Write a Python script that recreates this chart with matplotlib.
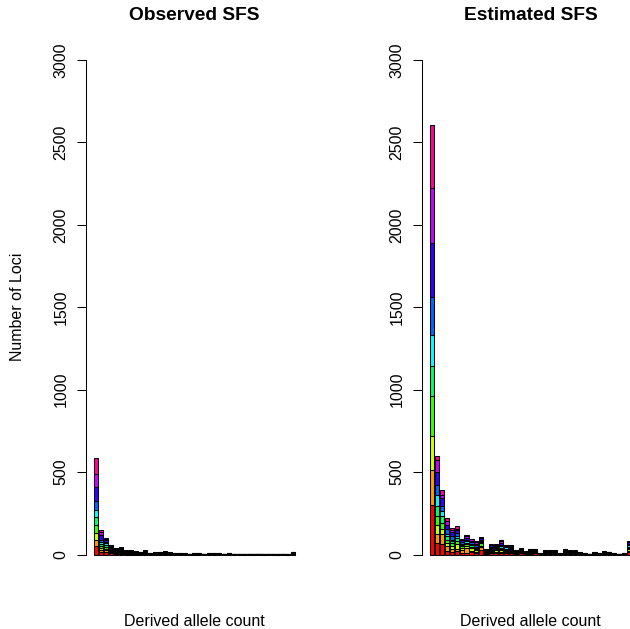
import numpy as np
import matplotlib
matplotlib.use("Agg")
import matplotlib.pyplot as plt

plt.rcParams['font.family'] = ['Liberation Sans', 'DejaVu Sans']

# rainbow(10) palette, one colour per population (bottom to top)
colores = ["#FF0000", "#FF9900", "#CCFF00", "#33FF00", "#00FF66",
           "#00FFFF", "#0066FF", "#3300FF", "#CC00FF", "#FF0099"]

# derived allele count classes 1..41
conteos = list(range(1, 42))

# observed SFS, one list per population
obs_rojo = [50, 14, 14, 8, 5, 5, 3, 3, 2, 2, 3, 1, 2, 2, 2, 2, 1, 1, 1, 1,
            1, 1, 1, 1, 1, 1, 1, 1, 1, 1, 0, 1, 0, 1, 0, 1, 0, 0, 1, 0, 2]
obs_naranja = [40, 12, 12, 6, 4, 5, 3, 2, 2, 2, 3, 1, 1, 2, 2, 1, 1, 1, 1, 1,
               1, 1, 0, 1, 1, 1, 1, 1, 1, 0, 1, 0, 1, 0, 0, 0, 1, 0, 0, 0, 2]
obs_amarillo = [42, 12, 10, 6, 4, 4, 2, 3, 2, 2, 3, 1, 2, 2, 2, 2, 1, 1, 1, 0,
                1, 1, 1, 1, 1, 1, 0, 1, 0, 0, 0, 1, 0, 0, 1, 0, 0, 1, 0, 0, 2]
obs_verde = [44, 14, 10, 6, 4, 5, 3, 3, 2, 2, 2, 1, 1, 2, 2, 1, 1, 1, 0, 1,
             1, 1, 0, 1, 1, 1, 1, 1, 1, 1, 0, 0, 0, 1, 0, 0, 0, 0, 0, 1, 2]
obs_primavera = [50, 12, 10, 6, 4, 4, 2, 3, 2, 2, 3, 2, 2, 2, 2, 2, 1, 1, 1, 1,
                 1, 1, 1, 1, 1, 1, 1, 1, 1, 0, 1, 0, 0, 0, 0, 1, 0, 0, 0, 0, 2]
obs_cian = [46, 12, 12, 6, 4, 4, 3, 2, 2, 2, 3, 1, 1, 2, 2, 1, 1, 1, 1, 0,
            1, 1, 0, 1, 1, 1, 0, 1, 0, 0, 0, 1, 0, 0, 1, 0, 0, 1, 0, 0, 2]
obs_celeste = [55, 14, 10, 6, 4, 5, 2, 3, 2, 2, 2, 1, 2, 2, 2, 2, 1, 1, 1, 1,
               1, 1, 1, 1, 1, 1, 1, 1, 1, 1, 0, 0, 1, 0, 0, 0, 0, 0, 1, 0, 2]
obs_azul = [81, 30, 10, 6, 5, 5, 3, 2, 2, 2, 3, 2, 1, 2, 2, 1, 1, 1, 1, 1,
            1, 1, 1, 1, 1, 1, 1, 1, 1, 0, 1, 0, 0, 1, 0, 0, 1, 0, 0, 1, 2]
obs_violeta = [81, 18, 8, 6, 4, 4, 3, 3, 2, 1, 2, 1, 2, 1, 2, 1, 1, 0, 0, 0,
               0, 0, 0, 1, 1, 0, 0, 0, 0, 0, 0, 0, 0, 0, 0, 0, 0, 0, 0, 0, 1]
obs_rosa = [95, 8, 4, 4, 4, 4, 2, 2, 2, 1, 2, 1, 1, 1, 2, 1, 1, 0, 0, 0,
            0, 0, 0, 1, 1, 0, 0, 0, 0, 0, 0, 0, 0, 0, 0, 0, 0, 0, 0, 0, 1]

# estimated SFS, one list per population
est_rojo = [303, 71, 61, 20, 16, 20, 12, 12, 14, 10, 30, 4, 10, 8, 10, 10, 8, 4, 8, 2,
            4, 8, 1, 3, 3, 3, 1, 4, 3, 3, 2, 1, 1, 2, 1, 2, 6, 1, 1, 2, 14]
est_naranja = [212, 51, 61, 30, 16, 14, 18, 30, 10, 8, 14, 4, 6, 8, 8, 6, 6, 3, 4, 2,
               4, 3, 1, 3, 3, 3, 1, 4, 3, 3, 2, 1, 0, 2, 1, 2, 2, 1, 0, 1, 8]
est_amarillo = [202, 58, 30, 20, 20, 30, 10, 10, 14, 8, 8, 4, 6, 10, 8, 6, 6, 3, 4, 2,
                4, 3, 1, 3, 3, 3, 1, 4, 3, 3, 2, 1, 1, 2, 1, 2, 2, 1, 1, 1, 10]
est_verde = [242, 54, 40, 20, 16, 18, 10, 10, 10, 8, 16, 4, 6, 6, 8, 6, 6, 3, 4, 2,
             4, 3, 1, 3, 3, 3, 1, 4, 3, 3, 2, 1, 0, 2, 1, 2, 2, 1, 0, 1, 8]
est_primavera = [182, 61, 40, 20, 14, 16, 8, 10, 8, 8, 8, 4, 6, 6, 8, 6, 6, 3, 4, 2,
                 4, 3, 1, 3, 3, 3, 1, 4, 3, 3, 2, 1, 1, 2, 1, 2, 1, 1, 1, 1, 8]
est_cian = [192, 63, 30, 16, 8, 14, 8, 8, 8, 6, 6, 4, 6, 6, 8, 10, 6, 3, 4, 2,
            4, 3, 1, 2, 3, 3, 1, 4, 2, 2, 1, 1, 0, 1, 1, 2, 1, 1, 0, 1, 8]
est_celeste = [232, 64, 34, 28, 20, 20, 12, 10, 10, 8, 8, 4, 6, 6, 8, 5, 6, 3, 4, 2,
               4, 4, 1, 2, 3, 3, 1, 4, 2, 2, 1, 1, 1, 1, 1, 2, 1, 1, 1, 1, 8]
est_azul = [323, 76, 46, 26, 24, 14, 8, 12, 10, 10, 8, 3, 10, 6, 10, 4, 6, 4, 4, 2,
            3, 4, 1, 2, 3, 3, 1, 4, 2, 2, 1, 1, 0, 1, 1, 2, 1, 1, 0, 2, 10]
est_violeta = [333, 76, 22, 22, 16, 10, 5, 8, 8, 10, 4, 2, 3, 3, 12, 2, 4, 2, 2, 2,
               2, 2, 1, 2, 3, 3, 1, 2, 2, 2, 1, 1, 1, 1, 1, 2, 1, 1, 1, 1, 4]
est_rosa = [384, 22, 30, 20, 8, 16, 4, 7, 5, 5, 3, 2, 2, 2, 5, 2, 3, 2, 2, 2,
            2, 2, 1, 2, 3, 3, 1, 2, 2, 2, 1, 1, 0, 1, 1, 2, 1, 1, 0, 1, 2]

observado = [obs_rojo, obs_naranja, obs_amarillo, obs_verde, obs_primavera,
             obs_cian, obs_celeste, obs_azul, obs_violeta, obs_rosa]
estimado = [est_rojo, est_naranja, est_amarillo, est_verde, est_primavera,
            est_cian, est_celeste, est_azul, est_violeta, est_rosa]

W, H = 630, 629


def barplot_apilado(ax, capas, titulo):
    # same geometry as R barplot: width 1, space 0.2
    n = len(conteos)
    x = 0.7 + 1.2 * np.arange(n)
    base = np.zeros(n)
    for vals, col in zip(capas, colores):
        vals = np.array(vals, dtype=float)
        ax.bar(x, vals, width=1.0, bottom=base, color=col,
               edgecolor="black", linewidth=0.75, clip_on=False)
        base += vals
    ax.set_xlim(-1.76, 51.16)
    ax.set_ylim(0, 3000)
    for s in ["top", "right", "bottom"]:
        ax.spines[s].set_visible(False)
    ax.spines["left"].set_linewidth(0.75)
    ax.set_xticks([])
    ax.set_yticks([0, 500, 1000, 1500, 2000, 2500, 3000])
    ax.tick_params(axis="y", length=6.5, width=0.75, pad=6, labelsize=11.5,
                   labelrotation=90)
    for lab in ax.get_yticklabels():
        lab.set_verticalalignment("center")


fig = plt.figure(figsize=(W / 100, H / 100), dpi=100)

ax1 = fig.add_axes([86 / W, 74.5 / H, 217 / W, 494.5 / H])
barplot_apilado(ax1, observado, "Observed SFS")
ax2 = fig.add_axes([422 / W, 74.5 / H, 217 / W, 494.5 / H])
barplot_apilado(ax2, estimado, "Estimated SFS")

fig.text(194.5 / W, 1 - 16 / H, "Observed SFS", ha="center", va="center",
         fontsize=13.8, fontweight="bold")
fig.text(530.5 / W, 1 - 16 / H, "Estimated SFS", ha="center", va="center",
         fontsize=13.8, fontweight="bold")
fig.text(194.5 / W, 1 - 622 / H, "Derived allele count", ha="center",
         va="center", fontsize=11.5)
fig.text(530.5 / W, 1 - 622 / H, "Derived allele count", ha="center",
         va="center", fontsize=11.5)
fig.text(18 / W, 1 - 307 / H, "Number of Loci", ha="center", va="center",
         rotation=90, fontsize=11.5)

fig.savefig("out.png", dpi=100)
